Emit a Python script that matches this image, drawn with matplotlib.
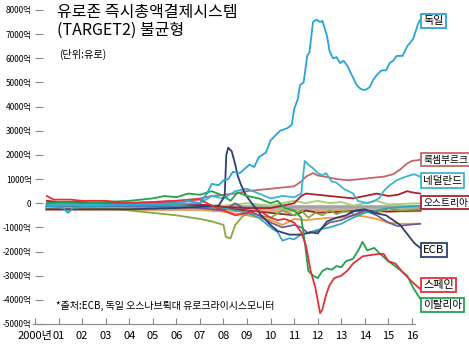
import matplotlib
matplotlib.use("Agg")
import matplotlib.pyplot as plt

plt.rcParams['font.family'] = ['Liberation Sans Narrow', 'Noto Sans CJK KR', 'DejaVu Sans']
plt.rcParams['axes.unicode_minus'] = False

# --- 데이터 (단위: 억 유로, 그림에서 읽은 값) ---
de_x = [2000.5, 2000.9, 2001.2, 2001.4, 2001.6, 2002.0, 2003.0, 2004.0, 2005.0, 2006.0, 2006.5, 2007.0,
        2007.3, 2007.5, 2007.8, 2008.0, 2008.2, 2008.4, 2008.7, 2009.1, 2009.3, 2009.5, 2009.8, 2010.0,
        2010.2, 2010.4, 2010.7, 2010.9, 2011.0, 2011.15, 2011.25, 2011.4, 2011.5, 2011.55, 2011.65,
        2011.8, 2011.95, 2012.1, 2012.2, 2012.4, 2012.5, 2012.65, 2012.8, 2012.95, 2013.1, 2013.25,
        2013.45, 2013.65, 2013.8, 2013.9, 2014.05, 2014.2, 2014.35, 2014.5, 2014.7, 2014.9, 2015.05,
        2015.2, 2015.35, 2015.6, 2015.8, 2016.05, 2016.25, 2016.35]
de_y = [-100, -150, -200, -400, -200, -150, -100, -50, -50, 0, 100, 0,
        400, 800, 750, 950, 1000, 1300, 1250, 1600, 1500, 1900, 2100, 2600,
        2800, 3000, 3100, 3250, 3900, 4300, 4900, 5000, 5700, 6100, 6250,
        7500, 7600, 7500, 7550, 6900, 6300, 6000, 6050, 5800, 5900, 5700,
        5300, 4900, 4750, 4700, 4700, 4800, 5100, 5300, 5500, 5500, 5800,
        5900, 6100, 6100, 6500, 6800, 7400, 7600]

nl_x = [2000.5, 2004.0, 2007.0, 2007.5, 2008.0, 2008.5, 2009.0, 2009.5, 2010.0, 2010.5, 2011.0,
        2011.3, 2011.45, 2011.6, 2011.8, 2012.0, 2012.2, 2012.35, 2012.6, 2012.8, 2013.1, 2013.3,
        2013.5, 2013.7, 2014.1, 2014.4, 2014.6, 2014.8, 2015.0, 2015.35, 2015.6, 2015.9, 2016.1, 2016.35]
nl_y = [-50, -50, 0, 300, 200, 500, 600, 400, 200, 300, 250,
        400, 1750, 1600, 1450, 1250, 1150, 1250, 900, 850, 600, 500,
        400, 100, 0, 100, 200, 500, 700, 950, 1050, 1150, 1200, 1100]

lu_x = [2000.5, 2003.0, 2005.0, 2006.0, 2007.0, 2007.5, 2008.0, 2008.5, 2009.0, 2009.5, 2010.0,
        2010.5, 2011.0, 2011.3, 2011.5, 2011.8, 2012.0, 2012.3, 2012.8, 2013.3, 2013.8, 2014.3,
        2014.8, 2015.2, 2015.5, 2015.8, 2016.0, 2016.35]
lu_y = [0, 0, 50, 100, 200, 300, 350, 400, 500, 550, 600,
        650, 700, 900, 1100, 1250, 1150, 1100, 1000, 950, 1000, 1050,
        1100, 1200, 1400, 1650, 1750, 1800]

at_x = [2000.5, 2001.0, 2002.0, 2003.0, 2004.0, 2005.0, 2006.0, 2007.0, 2008.0, 2009.0, 2010.0,
        2010.5, 2011.0, 2011.3, 2011.5, 2012.0, 2012.5, 2013.0, 2013.5, 2014.0, 2014.5, 2015.0,
        2015.4, 2015.8, 2016.0, 2016.35]
at_y = [100, 50, 50, 0, 0, 0, 0, -50, -150, -200, -200,
        -100, 0, 300, 400, 350, 300, 250, 200, 300, 400, 300,
        350, 500, 450, 400]

ecb_x = [2000.5, 2002.0, 2004.0, 2006.0, 2007.0, 2007.8, 2008.05, 2008.12, 2008.2, 2008.35, 2008.5,
         2008.6, 2008.75, 2008.95, 2009.2, 2009.6, 2010.0, 2010.3, 2010.8, 2011.2, 2011.5, 2011.7,
         2012.0, 2012.4, 2012.8, 2013.2, 2013.6, 2014.0, 2014.4, 2014.9, 2015.2, 2015.5, 2015.9,
         2016.1, 2016.35]
ecb_y = [-250, -250, -250, -200, -150, -100, 300, 2000, 2300, 2150, 1600,
         1150, 750, 330, 0, -500, -900, -1150, -1300, -1300, -1250, -1200,
         -1250, -750, -600, -500, -300, -250, -400, -500, -700, -900, -1400,
         -1650, -1850]

es_x = [2000.5, 2000.8, 2001.5, 2002.0, 2003.0, 2004.0, 2005.0, 2006.0, 2007.0, 2007.5, 2008.0,
        2008.5, 2009.0, 2009.5, 2010.0, 2010.3, 2010.6, 2011.0, 2011.3, 2011.5, 2011.7, 2011.9,
        2012.1, 2012.2, 2012.35, 2012.5, 2012.7, 2013.0, 2013.25, 2013.5, 2013.9, 2014.2, 2014.6,
        2014.8, 2015.0, 2015.3, 2015.6, 2016.0, 2016.35]
es_y = [300, 150, 150, 100, 100, 0, 50, 100, 150, -100, -300,
        -500, -400, -300, -600, -700, -650, -800, -1200, -1750, -2800, -3500,
        -4550, -4400, -3800, -3400, -3100, -3000, -2800, -2500, -2200, -2150, -2100,
        -2100, -2400, -2500, -2850, -3250, -3550]

it_x = [2000.5, 2001.0, 2002.0, 2003.0, 2004.0, 2005.0, 2005.5, 2006.0, 2006.5, 2007.0, 2007.5,
        2008.0, 2008.3, 2008.6, 2009.0, 2009.5, 2010.0, 2010.3, 2010.6, 2011.0, 2011.3, 2011.45,
        2011.6, 2011.8, 2012.0, 2012.2, 2012.4, 2012.6, 2012.8, 2013.0, 2013.2, 2013.5, 2013.75,
        2013.9, 2014.1, 2014.4, 2014.65, 2015.0, 2015.35, 2015.8, 2016.05, 2016.35]
it_y = [0, 50, 0, 50, 100, 200, 300, 250, 400, 350, 500,
        300, 100, 450, 300, 200, 0, 100, -200, -300, -600, -1600,
        -2800, -3000, -3100, -2800, -2700, -2750, -2600, -2650, -2400, -2300, -1900,
        -1600, -1950, -1850, -2100, -2400, -2650, -3000, -3500, -3950]

gr_x = [2000.5, 2002.0, 2003.0, 2004.0, 2005.0, 2006.0, 2007.0, 2007.5, 2008.0, 2008.1, 2008.3,
        2008.5, 2008.8, 2009.1, 2009.5, 2010.0, 2010.5, 2011.0, 2011.3, 2011.6, 2011.9, 2012.2,
        2012.5, 2012.8, 2013.2, 2013.6, 2014.0, 2014.5, 2015.0, 2015.5, 2016.35]
gr_y = [-100, -150, -200, -300, -400, -500, -650, -750, -900, -1400, -1450,
        -900, -550, -400, -500, -600, -300, -500, -300, -600, -400, -500,
        -300, -450, -300, -500, -350, -400, -200, -300, -250]

lg_x = [2000.5, 2004.0, 2008.0, 2009.0, 2010.0, 2011.0, 2011.5, 2012.0, 2012.5, 2013.0, 2013.5,
        2014.0, 2014.5, 2015.0, 2016.35]
lg_y = [-50, -50, -100, 0, -100, 100, 0, 100, 0, 50, -100, 0, 100, -50, 0]

gray_x = [2000.5, 2004.0, 2008.0, 2012.0, 2016.35]
gray_y = [-150, -150, -150, -150, -150]

tan_x = [2000.5, 2004.0, 2007.0, 2008.0, 2012.0, 2016.35]
tan_y = [-250, -250, -250, -300, -300, -300]

pt_x = [2000.5, 2004.0, 2007.0, 2008.0, 2009.0, 2010.0, 2010.5, 2011.0, 2011.5, 2012.0, 2012.5,
        2013.0, 2013.5, 2014.0, 2014.5, 2015.0, 2015.5, 2016.35]
pt_y = [-200, -200, -250, -350, -500, -700, -900, -650, -700, -650, -600,
        -600, -500, -550, -650, -800, -850, -850]

ie_x = [2000.5, 2006.0, 2007.0, 2008.0, 2009.0, 2009.5, 2010.0, 2010.3, 2010.5, 2010.8, 2011.0,
        2011.2, 2011.5, 2012.0, 2012.5, 2013.0, 2013.5, 2014.0, 2014.5, 2015.0, 2016.35]
ie_y = [-100, -100, -150, -200, -400, -600, -1000, -1200, -1550, -1450, -1500,
        -1350, -1250, -1100, -1000, -850, -600, -400, -300, -200, -100]

fr_x = [2000.5, 2006.0, 2007.0, 2008.0, 2008.5, 2009.0, 2009.5, 2010.0, 2010.5, 2011.0, 2011.3,
        2011.6, 2012.0, 2012.5, 2013.0, 2013.5, 2014.0, 2014.5, 2015.0, 2015.4, 2015.8, 2016.35]
fr_y = [-100, -150, -200, -300, 0, -300, -500, -800, -1000, -900, -1000,
        -1250, -1150, -800, -700, -500, -300, -500, -800, -950, -900, -850]

be_x = [2000.5, 2007.0, 2008.0, 2009.0, 2010.0, 2011.0, 2011.5, 2012.0, 2013.0, 2014.0, 2015.0, 2016.35]
be_y = [-50, -100, -200, -300, -400, -500, -300, -400, -350, -300, -350, -300]

year_ticks = list(range(2000, 2017))
year_labels = ['2000년'] + ['%02d' % (y - 2000) for y in range(2001, 2017)]
value_ticks = list(range(-5000, 8001, 1000))
value_labels = [('0' if v == 0 else f'{v}억') for v in value_ticks]

W, H = 469, 347
fig = plt.figure(figsize=(W / 100, H / 100), dpi=100)
ax = fig.add_axes([35 / W, 1 - 324 / H, 1 - 35 / W, (324 - 10) / H])
ax.set_xlim(2000, 2000 + (W - 35) / 23.56)
ax.set_ylim(-5000, 8000)

# 배경 선들 (라벨 없음)
ax.plot(tan_x, tan_y, color='#e6a77a', lw=2.6, zorder=2)
ax.plot(gray_x, gray_y, color='#a3a3a3', lw=2.6, zorder=2)
ax.plot(lg_x, lg_y, color='#a9cf78', lw=1.4, zorder=2)
ax.plot(be_x, be_y, color='#7a2e2e', lw=1.2, zorder=2)
ax.plot(pt_x, pt_y, color='#f39a3a', lw=1.3, zorder=2)
ax.plot(gr_x, gr_y, color='#8aa83c', lw=1.3, zorder=2)
ax.plot(fr_x, fr_y, color='#6a55a3', lw=1.2, zorder=2)
ax.plot(ie_x, ie_y, color='#2ea5b8', lw=1.2, zorder=2)

# 라벨 있는 선들
series = [
    (lu_x, lu_y, '#c46566', '룩셈부르크'),
    (at_x, at_y, '#a8232f', '오스트리아'),
    (nl_x, nl_y, '#3bb4cc', '네덜란드'),
    (ecb_x, ecb_y, '#2d3f73', 'ECB'),
    (it_x, it_y, '#22a24e', '이탈리아'),
    (es_x, es_y, '#e3303a', '스페인'),
    (de_x, de_y, '#2aa4d8', '독일'),
]
for xs, ys, c, name in series:
    ax.plot(xs, ys, color=c, lw=1.3, zorder=3)

# 오른쪽 라벨 박스 (y는 박스 중심값)
box_y = {'독일': 7540, '룩셈부르크': 1810, '네덜란드': 940, '오스트리아': 30,
         'ECB': -1940, '스페인': -3390, '이탈리아': -4215}
box_fs = {'독일': 8, '룩셈부르크': 7, '네덜란드': 7.6, '오스트리아': 7,
          'ECB': 8.2, '스페인': 8, '이탈리아': 7.6}
for xs, ys, c, name in series:
    ax.text(2016.47, box_y[name], name, fontsize=box_fs[name], ha='left', va='center',
            family=['Noto Sans CJK KR'], clip_on=False, zorder=5,
            bbox=dict(boxstyle='square,pad=0.2', fc='white', ec=c, lw=1.3))

ax.set_xticks(year_ticks)
ax.set_xticklabels(year_labels)
ax.set_yticks(value_ticks)
ax.set_yticklabels(value_labels)
ax.tick_params(axis='x', direction='in', length=4, color='#888888', labelsize=8, pad=5)
ax.tick_params(axis='y', direction='in', length=6, color='#888888', labelsize=6, pad=2.5)
for s in ['top', 'right', 'left']:
    ax.spines[s].set_visible(False)
ax.spines['bottom'].set_color('#888888')
ax.spines['bottom'].set_bounds(1999.9, 2016.15)

def ftext(px, py, s, **kw):
    fig.text(px / W, 1 - py / H, s, **kw)

ftext(57, 4, '유로존 즉시총액결제시스템', fontsize=11.5, va='top', family=['Noto Sans CJK KR'])
ftext(57, 22, '(TARGET2) 불균형', fontsize=11.5, va='top', family=['Noto Sans CJK KR'])
ftext(59, 49, '(단위:유로)', fontsize=7.3, va='top', family=['Noto Sans CJK KR'])
ftext(56, 306, '*출처:ECB, 독일 오스나브뤽대 유로크라이시스모니터', fontsize=7.2, va='center',
      family=['Noto Sans CJK KR'])

fig.savefig('out.png', dpi=100)
